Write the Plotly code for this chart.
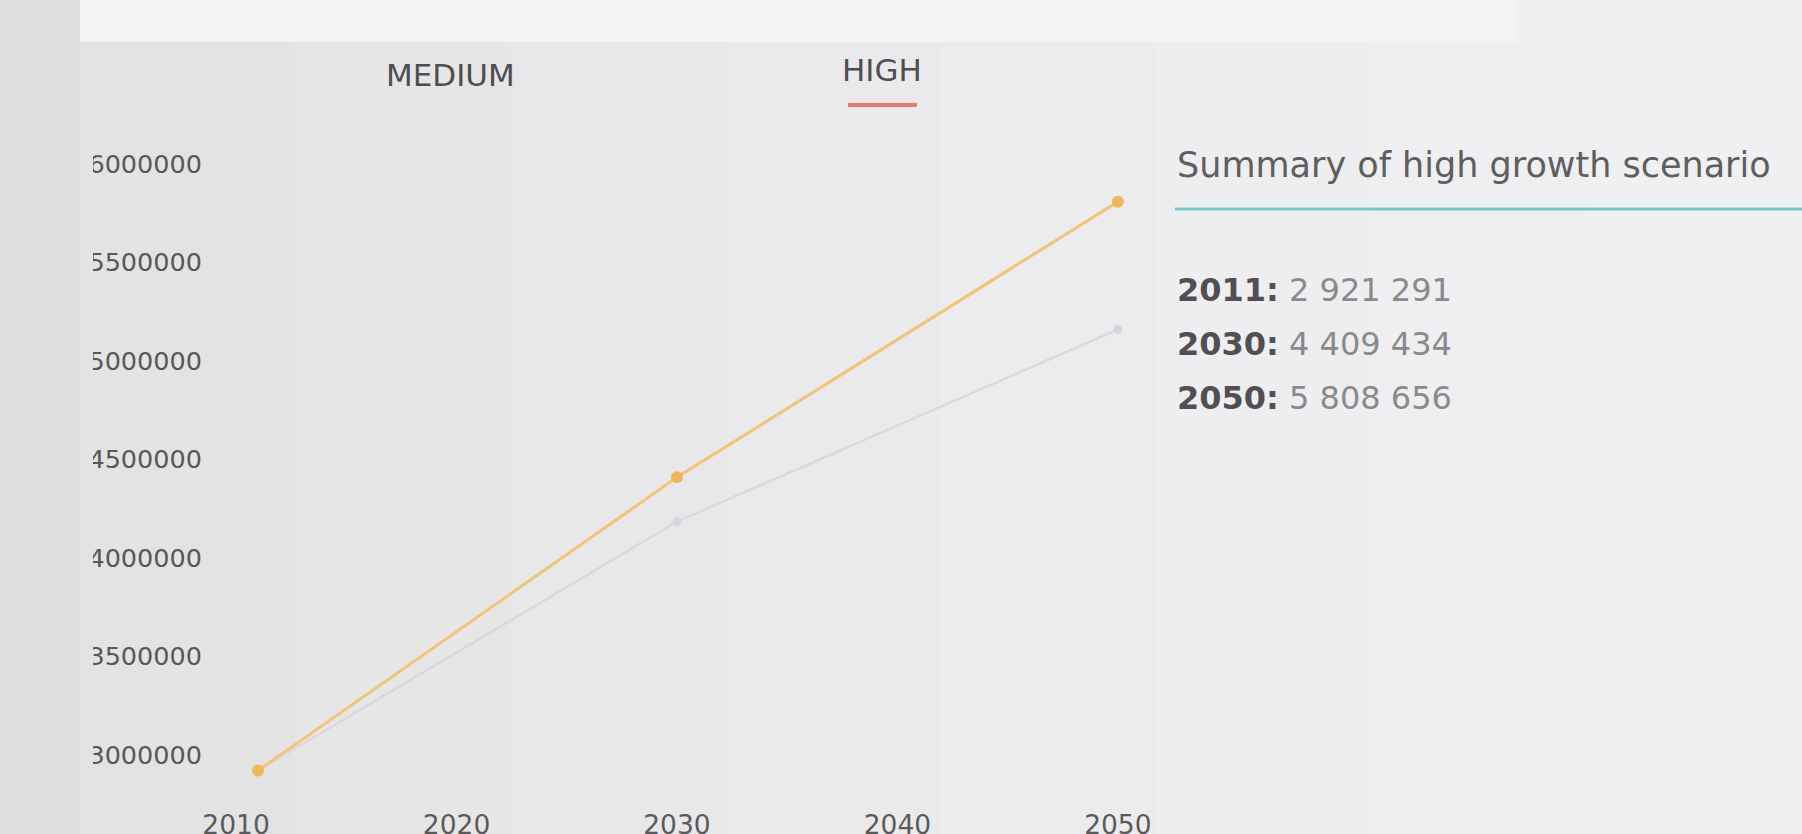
import plotly.graph_objects as go

# ---- data ----
years = [2011, 2030, 2050]
high = [2921291, 4409434, 5808656]
medium = [2921291, 4185000, 5160000]
x_ticks = [2010, 2020, 2030, 2040, 2050]
y_ticks = [3000000, 3500000, 4000000, 4500000, 5000000, 5500000, 6000000]
tabs = ["MEDIUM", "HIGH"]
summary_title = "Summary of high growth scenario"

W, H = 1802, 834
L, R, T, B = 203, 1184, 120, 806
FONT = "DejaVu Sans"


def px(x):
    return (x - L) / (R - L)


def py(y):
    return (B - y) / (B - T)


fig = go.Figure()

fig.add_trace(go.Scatter(
    x=years, y=medium, mode="lines+markers",
    line=dict(color="#dadade", width=2.5),
    marker=dict(color="#d6d6da", size=9),
    hoverinfo="skip", showlegend=False))
fig.add_trace(go.Scatter(
    x=years, y=high, mode="lines+markers",
    line=dict(color="#f1c47a", width=3),
    marker=dict(color="#f0b65c", size=12),
    hoverinfo="skip", showlegend=False))

shapes = []
# background gradient bands
band_cols = ["#e3e3e4", "#e6e6e7", "#e8e8ea", "#eaeaec", "#ececee", "#eeeef0", "#efeff1", "#f0f0f2"]
x0 = 80
step = (W - 80) / len(band_cols)
for i, c in enumerate(band_cols):
    shapes.append(dict(type="rect", xref="paper", yref="paper",
                       x0=px(x0 + i * step), x1=px(x0 + (i + 1) * step + 1 + (60 if i == len(band_cols) - 1 else 0)),
                       y0=py(H + 60), y1=py(42), fillcolor=c, line_width=0, layer="below"))
# top strip
shapes.append(dict(type="rect", xref="paper", yref="paper", x0=px(-20), x1=px(1517),
                   y0=py(42), y1=py(-20), fillcolor="#f3f3f4", line_width=0, layer="below"))
shapes.append(dict(type="rect", xref="paper", yref="paper", x0=px(1517), x1=px(W + 60),
                   y0=py(42), y1=py(-20), fillcolor="#f0f0f2", line_width=0, layer="below"))
# left margin (above, clips first digit of tick labels)
shapes.append(dict(type="rect", xref="paper", yref="paper", x0=px(-20), x1=px(80),
                   y0=py(H + 60), y1=py(-20), fillcolor="#dededf", line_width=0, layer="above"))
shapes.append(dict(type="rect", xref="paper", yref="paper", x0=px(80), x1=px(93),
                   y0=py(H + 60), y1=py(42), fillcolor="#e3e3e4", line_width=0, layer="above"))
# red underline under HIGH
shapes.append(dict(type="line", xref="paper", yref="paper", x0=px(848), x1=px(917),
                   y0=py(105), y1=py(105), line=dict(color="#e8776d", width=4)))
# teal divider
shapes.append(dict(type="line", xref="paper", yref="paper", x0=px(1175), x1=px(W + 20),
                   y0=py(209), y1=py(209), line=dict(color="#72c9c8", width=3)))

annotations = []
annotations.append(dict(text=tabs[0], xref="paper", yref="paper", x=px(450), y=py(75),
                        xanchor="center", yanchor="middle", showarrow=False,
                        font=dict(family=FONT, size=31, color="#4e4e50")))
annotations.append(dict(text=tabs[1], xref="paper", yref="paper", x=px(882), y=py(70),
                        xanchor="center", yanchor="middle", showarrow=False,
                        font=dict(family=FONT, size=31, color="#4e4e50")))
annotations.append(dict(text=summary_title, xref="paper", yref="paper", x=px(1175), y=py(165),
                        xanchor="left", yanchor="middle", showarrow=False,
                        font=dict(family=FONT, size=35, color="#5e5e60")))
for i, (yr, v) in enumerate(zip(years, high)):
    num = f"{v:,}".replace(",", " ")
    annotations.append(dict(
        text=f"<b>{yr}:</b> <span style='color:#8a8a8c'>{num}</span>",
        xref="paper", yref="paper", x=px(1175), y=py(290 + i * 54),
        xanchor="left", yanchor="middle", showarrow=False,
        font=dict(family=FONT, size=32, color="#505052")))

fig.update_layout(
    width=W, height=H,
    margin=dict(l=L, r=W - R, t=T, b=H - B),
    paper_bgcolor="#ececee", plot_bgcolor="rgba(0,0,0,0)",
    shapes=shapes, annotations=annotations,
    xaxis=dict(range=[2008.5, 2053], tickvals=x_ticks, ticktext=[str(t) for t in x_ticks],
               showgrid=False, zeroline=False, showline=False, automargin=False,
               tickfont=dict(family=FONT, size=26.5, color="#5a5a5c")),
    yaxis=dict(range=[2741120, 6223350], tickvals=y_ticks, ticktext=[str(t) for t in y_ticks],
               showgrid=False, zeroline=False, showline=False, automargin=False,
               tickfont=dict(family=FONT, size=25.5, color="#58585a")),
)

fig.write_html("out.html")
